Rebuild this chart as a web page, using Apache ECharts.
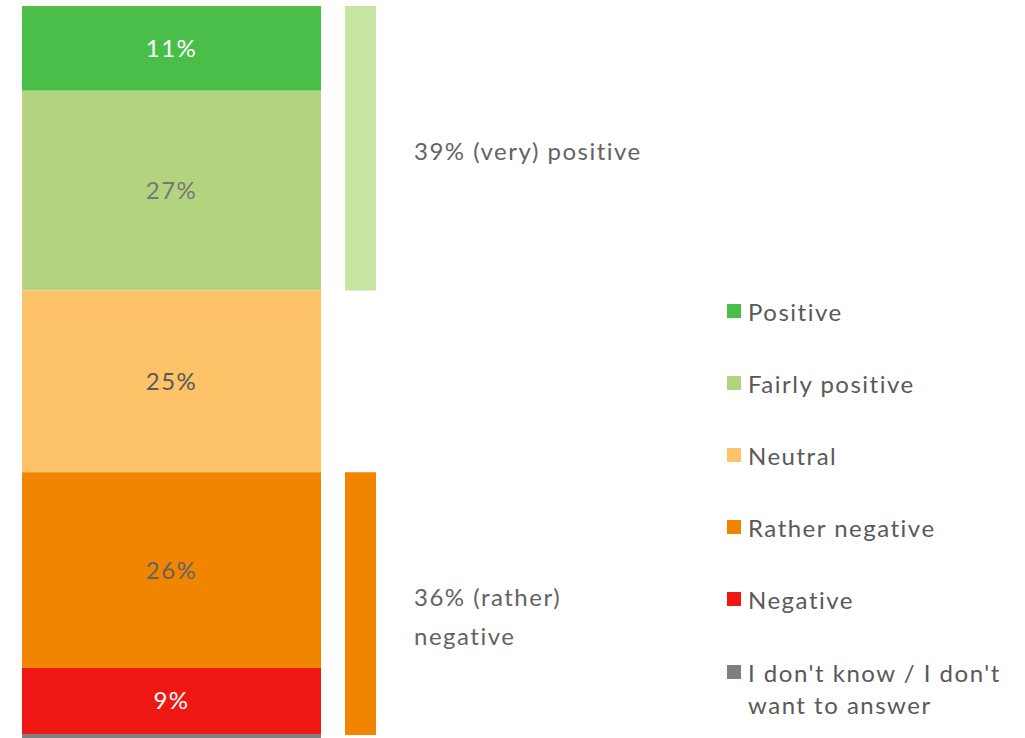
<!DOCTYPE html>
<html>
<head>
<meta charset="utf-8">
<script src="https://cdn.jsdelivr.net/npm/echarts@6/dist/echarts.min.js"></script>
<style>
  html, body { margin: 0; padding: 0; background: #fff; }
  #main { width: 1025px; height: 738px; }
  /* the original typeface runs wider than Lato */
  #main text { letter-spacing: 1.5px; }
</style>
</head>
<body>
<div id="main"></div>
<script>
// answer categories, top to bottom
const categories = ['Positive', 'Fairly positive', 'Neutral', 'Rather negative', 'Negative', "I don't know / I don't want to answer"]
// shares in % (labels show rounded numbers)
const shares = [11.45, 27.0, 24.55, 26.45, 8.9, 1.65]
const colors = ['#49bf4a', '#b3d37f', '#fec268', '#f28500', '#ee1714', '#808080']
const labelColors = ['#ffffff', '#777777', '#595959', '#636363', '#ffffff', '#ffffff']

// summary bar: (very) positive, gap for neutral, (rather) negative
const summaryNames = ['39% (very) positive', '', '36% (rather)\nnegative']
const summaryValues = [38.45, 24.55, 35.5]
const summaryColors = ['#c6e5a0', 'transparent', '#f28500']

// the picture is cut just below the red segment
const yMax = 98.9

const fontFamily = 'Lato, "Noto Sans", sans-serif'

const mainSeries = categories.map((name, i) => ({
  name: name,
  type: 'bar',
  stack: 'main',
  xAxisIndex: 0,
  yAxisIndex: 0,
  barWidth: '100%',
  data: [shares[i]],
  itemStyle: { color: colors[i] },
  label: {
    show: i < 5,
    position: 'inside',
    offset: [0, -1],
    formatter: p => Math.round(p.value) + '%',
    color: labelColors[i],
    fontFamily: fontFamily,
    fontSize: 24
  },
  emphasis: { disabled: true }
}))

const summarySeries = summaryValues.map((v, i) => ({
  name: 'summary' + i,
  type: 'bar',
  stack: 'summary',
  xAxisIndex: 1,
  yAxisIndex: 1,
  barWidth: '100%',
  data: [v],
  itemStyle: { color: summaryColors[i] },
  label: {
    show: summaryNames[i] !== '',
    position: 'right',
    distance: 38,
    offset: i === 0 ? [0, 2] : [0, 12],
    formatter: summaryNames[i],
    color: '#636363',
    fontFamily: fontFamily,
    fontSize: 24,
    lineHeight: 39
  },
  emphasis: { disabled: true }
}))

const legendText = {
  fontFamily: fontFamily,
  fontSize: 24,
  lineHeight: 32,
  color: '#595959',
  padding: [0, 0, 0, 2]
}

const chart = echarts.init(document.getElementById('main'), null, { renderer: 'svg' })
chart.setOption({
  animation: false,
  grid: [
    { left: 22, top: 6, width: 299, bottom: 0 },
    { left: 345, top: 6, width: 31, bottom: 0 }
  ],
  xAxis: [
    { type: 'category', gridIndex: 0, data: [''], show: false },
    { type: 'category', gridIndex: 1, data: [''], show: false }
  ],
  yAxis: [
    { type: 'value', gridIndex: 0, min: 0, max: yMax, inverse: true, show: false },
    { type: 'value', gridIndex: 1, min: 0, max: yMax, inverse: true, show: false }
  ],
  legend: [
    {
      orient: 'vertical',
      left: 722,
      top: 290,
      padding: 5,
      itemWidth: 14,
      itemHeight: 14,
      itemGap: 40,
      icon: 'rect',
      selectedMode: false,
      data: categories.slice(0, 5),
      textStyle: legendText
    },
    {
      // last entry wraps; an empty first line keeps the icon on the first text line
      orient: 'vertical',
      left: 722,
      top: 619,
      padding: 5,
      itemWidth: 14,
      itemHeight: 14,
      icon: 'rect',
      selectedMode: false,
      data: categories.slice(5),
      formatter: name => '\n' + name.replace(' / I don\'t want', ' / I don\'t\nwant'),
      textStyle: legendText
    }
  ],
  series: mainSeries.concat(summarySeries)
})
</script>
</body>
</html>
